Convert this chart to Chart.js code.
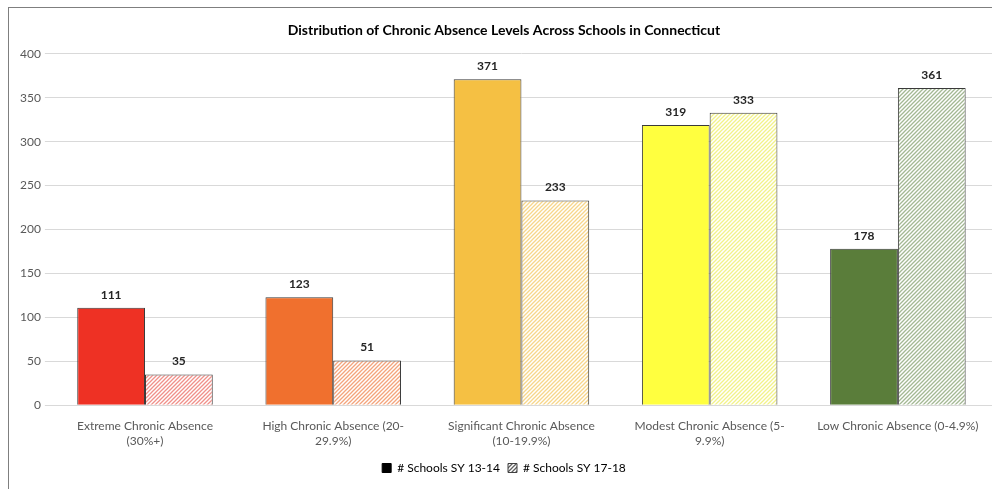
<!DOCTYPE html>
<html>
<head>
<meta charset="utf-8">
<script src="https://cdn.jsdelivr.net/npm/chart.js@4"></script>
<style>
  html, body { margin: 0; padding: 0; background: #fff; }
  #wrap { position: relative; width: 992px; height: 489px; overflow: hidden; }
  #frame { position: absolute; left: 8px; top: 7px; width: 1000px; height: 520px; border: 1px solid #7f7f7f; }
  canvas { position: absolute; left: 0; top: 0; }
</style>
</head>
<body>
<div id="wrap">
  <div id="frame"></div>
  <canvas id="barChart" width="992" height="489"></canvas>
</div>
<script>
// Data
var categories = [
  ['Extreme Chronic Absence', '(30%+)'],
  ['High Chronic Absence (20-', '29.9%)'],
  ['Significant Chronic Absence', '(10-19.9%)'],
  ['Modest Chronic Absence (5-', '9.9%)'],
  'Low Chronic Absence (0-4.9%)'
];
var schools1314 = [111, 123, 371, 319, 178];
var schools1718 = [35, 51, 233, 333, 361];
var yTicks = [0, 50, 100, 150, 200, 250, 300, 350, 400];

var solidColors = ['#ee3124', '#f0702e', '#f5c043', '#ffff3f', '#5a7d3a'];
var stripeColors = ['#f0908a', '#f4a47c', '#f7d68a', '#f2f28a', '#a3b893'];

function hatch(color) {
  var c = document.createElement('canvas');
  c.width = 4; c.height = 4;
  var g = c.getContext('2d');
  g.fillStyle = '#ffffff';
  g.fillRect(0, 0, 4, 4);
  g.strokeStyle = color;
  g.lineWidth = 1.3;
  g.beginPath();
  g.moveTo(0, 4); g.lineTo(4, 0);
  g.moveTo(-1, 1); g.lineTo(1, -1);
  g.moveTo(3, 5); g.lineTo(5, 3);
  g.stroke();
  return g.createPattern(c, 'repeat');
}

var stripePatterns = stripeColors.map(hatch);

// value labels on top of bars
var valueLabels = {
  id: 'valueLabels',
  afterDatasetsDraw: function (chart) {
    var ctx = chart.ctx;
    ctx.save();
    ctx.font = 'bold 12px Lato, "Open Sans", sans-serif';
    ctx.fillStyle = '#262626';
    ctx.textAlign = 'center';
    ctx.textBaseline = 'bottom';
    chart.data.datasets.forEach(function (ds, i) {
      chart.getDatasetMeta(i).data.forEach(function (bar, j) {
        ctx.fillText(ds.data[j], bar.x, bar.y - 7);
      });
    });
    ctx.restore();
  }
};

var barCtx = document.getElementById('barChart').getContext('2d');
var barChart = new Chart(barCtx, {
  type: 'bar',
  data: {
    labels: categories,
    datasets: [
      {
        label: '# Schools SY 13-14',
        data: schools1314,
        backgroundColor: solidColors,
        borderColor: '#3a3a3a',
        borderWidth: 1
      },
      {
        label: '# Schools SY 17-18',
        data: schools1718,
        backgroundColor: stripePatterns,
        borderColor: '#3a3a3a',
        borderWidth: 1
      }
    ]
  },
  options: {
    responsive: false,
    animation: false,
    categoryPercentage: 0.72,
    barPercentage: 1,
    layout: { padding: { left: 16, right: 0, top: 6, bottom: 5 } },
    scales: {
      x: {
        grid: { display: false },
        border: { color: '#d9d9d9' },
        ticks: {
          color: '#595959',
          font: { family: 'Lato, "Open Sans", sans-serif', size: 12 },
          maxRotation: 0,
          autoSkip: false,
          padding: 6
        }
      },
      y: {
        min: 0,
        max: 400,
        afterBuildTicks: function (axis) {
          axis.ticks = yTicks.map(function (v) { return { value: v }; });
        },
        grid: { color: '#d9d9d9', tickLength: 6 },
        border: { display: false },
        ticks: {
          color: '#595959',
          font: { family: 'Lato, "Open Sans", sans-serif', size: 12 },
          padding: 4
        }
      }
    },
    plugins: {
      title: {
        display: true,
        text: 'Distribution of Chronic Absence Levels Across Schools in Connecticut',
        color: '#000000',
        font: { family: 'Lato, "Open Sans", sans-serif', size: 14, weight: 'bold' },
        padding: { top: 16, bottom: 15 }
      },
      legend: {
        position: 'bottom',
        labels: {
          color: '#000000',
          font: { family: 'Lato, "Open Sans", sans-serif', size: 12 },
          boxWidth: 9,
          boxHeight: 9,
          padding: 8,
          generateLabels: function (chart) {
            return [
              { text: '# Schools SY 13-14', fillStyle: '#000000', strokeStyle: '#000000', lineWidth: 1, datasetIndex: 0 },
              { text: '# Schools SY 17-18', fillStyle: hatch('#606060'), strokeStyle: '#404040', lineWidth: 1, datasetIndex: 1 }
            ];
          }
        }
      },
      tooltip: { enabled: false }
    }
  },
  plugins: [valueLabels]
});
</script>
</body>
</html>
